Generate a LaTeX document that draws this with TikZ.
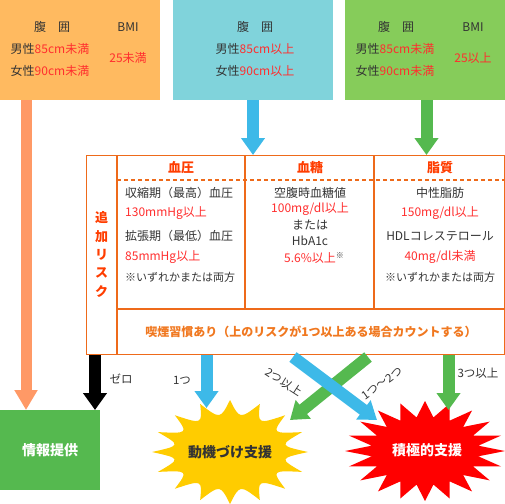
\documentclass[tikz,border=0pt]{standalone}
\usepackage{fontspec}
\setmainfont{Noto Sans CJK JP}
\usetikzlibrary{arrows.meta}
\definecolor{boxorange}{HTML}{FFBA60}
\definecolor{boxblue}{HTML}{80D3DB}
\definecolor{boxgreen}{HTML}{86CC5A}
\definecolor{arrorange}{HTML}{FF9966}
\definecolor{arrblue}{HTML}{3DB9E8}
\definecolor{arrgreen}{HTML}{55B94F}
\definecolor{tblline}{HTML}{EE6A1A}
\definecolor{headred}{HTML}{FF3D00}
\definecolor{valred}{HTML}{FF2E2E}
\definecolor{smokeor}{HTML}{F07820}
\definecolor{textgray}{HTML}{333333}
\definecolor{burstyellow}{HTML}{FFCC00}
\definecolor{burstred}{HTML}{FF0000}
\newcommand\myfs[1]{\fontsize{#1}{#1}\selectfont}
\newcommand\val[1]{\textcolor{valred}{#1}}
\begin{document}
\begin{tikzpicture}[x=1pt,y=-1pt,
  topbox/.style={anchor=north west, minimum width=160pt, minimum height=100pt, inner sep=0pt},
  lbl/.style={font=\myfs{12}, text=textgray, inner sep=0pt},
  small/.style={font=\myfs{11}, text=textgray, inner sep=0pt},
  head/.style={font=\myfs{13}\bfseries, text=headred, inner sep=0pt},
  tblstyle/.style={draw=tblline, line width=1.2pt},
  fatarrow/.style={line width=12pt, -{Triangle[width=23pt,length=17pt]}},
  alabel/.style={font=\myfs{11.5}, text=textgray, inner sep=0pt},
  bursttext/.style={font=\myfs{14}\bfseries, inner sep=0pt}
]
\useasboundingbox (0,0) rectangle (505,503);

% top boxes
\node[topbox, fill=boxorange] (ob) at (0,0) {};
\node[topbox, fill=boxblue] (bb) at (173,0) {};
\node[topbox, fill=boxgreen] (gb) at (345,0) {};

\node[lbl] (o1) at (52,27) {腹　囲};
\node[lbl] (o2) at (128,27) {BMI};
\node[lbl] (o3) at (50,49) {男性\val{85cm未満}};
\node[lbl] (o4) at (50,71) {女性\val{90cm未満}};
\node[lbl] (o5) at (128,58) {\val{25未満}};

\node[lbl] (b1) at (255,27) {腹　囲};
\node[lbl] (b2) at (255,49) {男性\val{85cm以上}};
\node[lbl] (b3) at (255,71) {女性\val{90cm以上}};

\node[lbl] (g1) at (396,27) {腹　囲};
\node[lbl] (g2) at (473,27) {BMI};
\node[lbl] (g3) at (395,49) {男性\val{85cm未満}};
\node[lbl] (g4) at (395,71) {女性\val{90cm未満}};
\node[lbl] (g5) at (473,58) {\val{25以上}};

% table
\node[tblstyle, anchor=north west, minimum width=418pt, minimum height=199pt, inner sep=0pt] (tbl) at (86,155) {};
\draw[tblstyle] (tbl.north -| 117,0) -- (tbl.south -| 117,0);
\draw[tblstyle] (117,309) -- (tbl.east |- 0,309);
\draw[tblstyle] (tbl.north -| 245,0) -- (245,309);
\draw[tblstyle] (tbl.north -| 374,0) -- (374,309);
\draw[tblstyle, dash pattern=on 4pt off 3pt] (117,180) -- (tbl.east |- 0,180);

\node[font=\fontsize{13}{18.3}\selectfont\bfseries, text=headred, align=center, inner sep=0pt] (risk) at (101.5,254.5) {追\\加\\リ\\ス\\ク};

\node[head] (h1) at (181,168) {血圧};
\node[head] (h2) at (310,168) {血糖};
\node[head] (h3) at (440,168) {脂質};

\node[lbl, anchor=west] (c11) at (125,193) {収縮期（最高）血圧};
\node[lbl, anchor=west] (c12) at (125,213) {\val{130mmHg以上}};
\node[lbl, anchor=west] (c13) at (125,236) {拡張期（最低）血圧};
\node[lbl, anchor=west] (c14) at (125,257) {\val{85mmHg以上}};
\node[small, anchor=west] (c15) at (125,277) {※いずれかまたは両方};

\node[lbl] (c21) at (310,193) {空腹時血糖値};
\node[lbl] (c22) at (310,209) {\val{100mg/dl以上}};
\node[lbl] (c23) at (310,225) {または};
\node[lbl] (c24) at (310,241) {HbA1c};
\node[lbl] (c25) at (314,258) {\val{5.6\%以上}\raisebox{4pt}{\myfs{8}※}};

\node[lbl] (c31) at (440,193) {中性脂肪};
\node[lbl] (c32) at (440,213) {\val{150mg/dl以上}};
\node[lbl] (c33) at (440,236) {HDLコレステロール};
\node[lbl] (c34) at (440,257) {\val{40mg/dl未満}};
\node[small] (c35) at (440,277) {※いずれかまたは両方};

\node[font=\myfs{12}\bfseries, text=smokeor, inner sep=0pt] (smoke) at (311,332) {喫煙習慣あり（上のリスクが1つ以上ある場合カウントする）};

% bottom targets
\node[anchor=north west, fill=arrgreen, minimum width=100pt, minimum height=80pt, inner sep=0pt] (info) at (0,410) {};
\node[bursttext, text=white] (infot) at (info.center) {情報提供};

\fill[burstyellow] ({230+78*cos(0)},{452+52*sin(0)})
  \foreach \k in {1,...,16} { .. controls ({230+0.64*78*cos((\k-0.5)*22.5)},{452+0.64*52*sin((\k-0.5)*22.5)}) .. ({230+78*cos(\k*22.5)},{452+52*sin(\k*22.5)}) } -- cycle;
\node[bursttext, text=textgray] (motiv) at (230,452) {動機づけ支援};

\fill[burstred] (505,451)
  \foreach \k in {1,...,20} { -- ({425+54*cos((\k-0.5)*18)},{451+34*sin((\k-0.5)*18)}) -- ({425+80*cos(\k*18)},{451+50*sin(\k*18)}) } -- cycle;
\node[bursttext, text=white] (active) at (427,450) {積極的支援};

% arrows
\coordinate (motivtip) at (206.5,408);
\coordinate (activetip) at (448.5,410);
\coordinate (g2s) at (368,357);
\coordinate (g2e) at (290,420);
\coordinate (b2s) at (293,357);
\coordinate (b2e) at (377,420);

\draw[line width=11pt, arrorange, -{Triangle[width=22pt,length=20pt]}] (ob.south -| 26,0) -- (info.north -| 26,0);
\draw[fatarrow, arrblue] (bb.south -| 253,0) -- (tbl.north -| 253,0);
\draw[fatarrow, arrgreen] (gb.south -| 426.5,0) -- (tbl.north -| 426.5,0);

\draw[fatarrow, black] (tbl.south -| 95,0) -- (info.north -| 95,0);
\draw[fatarrow, arrblue] (tbl.south -| 206.5,0) -- (motivtip);
\draw[fatarrow, arrgreen] (tbl.south -| 448.5,0) -- (activetip);
\draw[fatarrow, arrgreen] (g2s) -- (g2e);
\draw[fatarrow, arrblue] (b2s) -- (b2e);

\node[alabel] (l0) at (121,379) {ゼロ};
\node[alabel] (l1) at (182,380) {1つ};
\node[alabel] (l3) at (478,373) {3つ以上};
\node[alabel, rotate=-33] (l2) at (284,382) {2つ以上};
\node[alabel, rotate=36] (l12) at (382,383) {1つ〜2つ};
\end{tikzpicture}
\end{document}
